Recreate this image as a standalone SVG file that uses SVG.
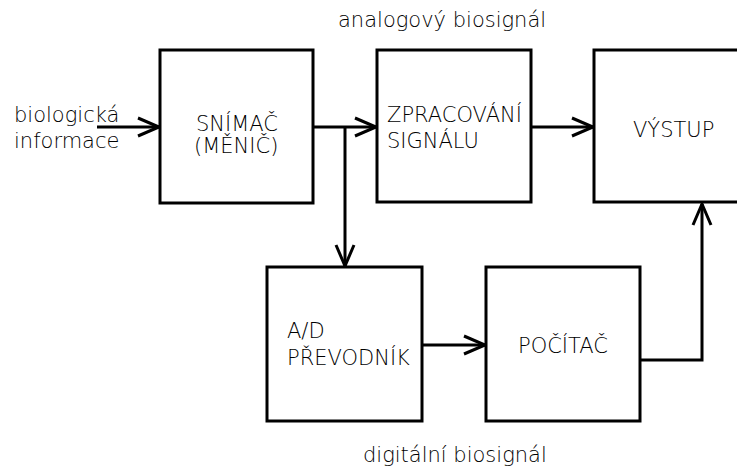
<svg xmlns="http://www.w3.org/2000/svg" width="737" height="470" viewBox="0 0 737 470">
<defs>
<style>
rect.box{fill:#fff;stroke:#000;stroke-width:3}
.c{fill:none;stroke:#000;stroke-width:3}
text{font-family:"DejaVu Sans","Liberation Sans",sans-serif;font-size:21px;font-weight:200;fill:#000}
</style>
<marker id="ah" markerUnits="userSpaceOnUse" viewBox="-24 -12 28 24" refX="0" refY="0" markerWidth="28" markerHeight="24" orient="auto" overflow="visible">
<path d="M-21,-9 L0,0 L-21,9" fill="none" stroke="#000" stroke-width="3"/>
</marker>
</defs>
<rect width="737" height="470" fill="#fff"/>
<g id="connectors">
<line class="c" x1="97" y1="127" x2="159" y2="127" marker-end="url(#ah)"/>
<line class="c" x1="313" y1="127" x2="376" y2="127" marker-end="url(#ah)"/>
<line class="c" x1="345" y1="127" x2="345" y2="266" marker-end="url(#ah)"/>
<line class="c" x1="531" y1="127" x2="593" y2="127" marker-end="url(#ah)"/>
<line class="c" x1="422" y1="345" x2="485" y2="345" marker-end="url(#ah)"/>
<polyline class="c" points="640,360 702,360 702,204" marker-end="url(#ah)"/>
</g>
<g id="label-input">
<text x="14" y="122">biologická</text>
<text x="14" y="148">informace</text>
</g>
<g id="snimac">
<rect class="box" x="160" y="50" width="153" height="153"/>
<text x="196" y="131">SNÍMAČ</text>
<text x="194" y="153">(MĚNIČ)</text>
</g>
<g id="zpracovani">
<rect class="box" x="377" y="50" width="154" height="152"/>
<text x="387" y="122">ZPRACOVÁNÍ</text>
<text x="387" y="148">SIGNÁLU</text>
</g>
<g id="vystup">
<rect class="box" x="594" y="50" width="150" height="152"/>
<text x="633" y="137">VÝSTUP</text>
</g>
<g id="ad">
<rect class="box" x="267" y="267" width="155" height="154"/>
<text x="287" y="338">A/D</text>
<text x="287" y="365">PŘEVODNÍK</text>
</g>
<g id="pocitac">
<rect class="box" x="486" y="267" width="154" height="154"/>
<text x="518" y="353">POČÍTAČ</text>
</g>
<text x="338" y="27">analogový biosignál</text>
<text x="363" y="462">digitální biosignál</text>
</svg>
